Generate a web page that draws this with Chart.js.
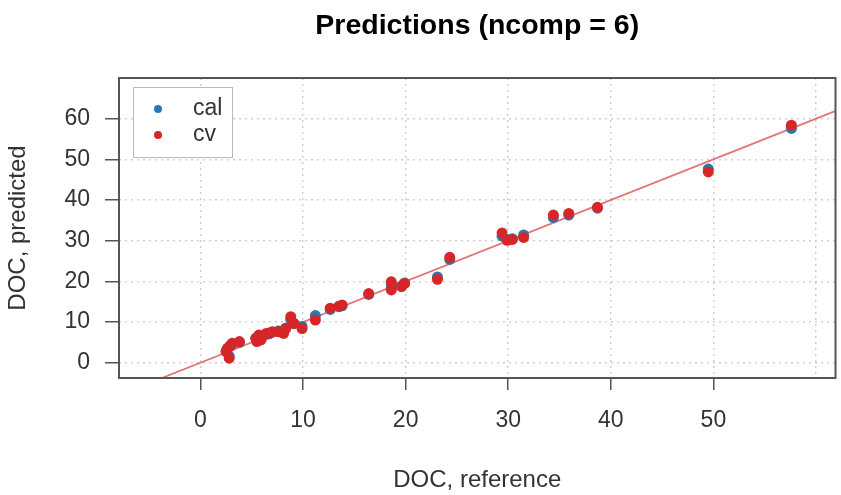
<!DOCTYPE html>
<html>
<head>
<meta charset="utf-8">
<script src="https://cdn.jsdelivr.net/npm/chart.js@4"></script>
<style>
  html, body { margin: 0; padding: 0; background: #fff; }
</style>
</head>
<body>
<canvas id="myChart" width="841" height="495"></canvas>
<script>
// reference DOC values and the predictions (calibration and cross-validation)
const refValues = [2.5, 2.65, 2.8, 2.9, 3.1, 3.8, 5.4, 5.5, 5.7, 5.9, 6.0, 6.4, 6.7, 7.0, 7.6, 8.1, 8.3, 8.8, 9.1, 9.9,
  11.2, 12.65, 13.5, 13.8, 16.4, 18.6, 18.6, 19.6, 19.9, 23.1, 24.3, 29.4, 29.9, 30.4, 31.5, 34.4, 35.9, 38.7, 49.5, 57.6];
const cvPredicted = [2.7, 3.5, 1.1, 4.2, 4.8, 5.2, 6.0, 5.2, 6.8, 5.6, 6.5, 7.2, 7.3, 7.6, 7.6, 7.2, 8.4, 11.3, 9.7, 8.4,
  10.5, 13.4, 13.9, 14.2, 17.0, 17.9, 19.9, 18.7, 19.5, 20.5, 25.9, 31.9, 30.1, 30.3, 30.8, 36.3, 36.7, 38.2, 46.9, 58.4];
const calPredicted = [2.9, 3.6, 1.6, 4.1, 4.6, 5.0, 6.0, 5.5, 6.6, 5.9, 6.4, 7.0, 7.1, 7.5, 7.8, 7.5, 8.5, 10.6, 9.6, 8.9,
  11.6, 13.1, 13.8, 14.0, 16.8, 18.2, 19.4, 18.9, 19.6, 21.1, 25.4, 31.1, 30.3, 30.5, 31.4, 35.7, 36.3, 38.0, 47.6, 57.6];

const seriesNames = ["cal", "cv"];
const seriesColors = ["#2679B2", "#D62728"];

const xLimits = [-7.94, 61.9];
const yLimits = [-3.76, 70];
const xTicks = [0, 10, 20, 30, 40, 50, 60];
const xTickLabels = ["0", "10", "20", "30", "40", "50", ""];
const yTicks = [0, 10, 20, 30, 40, 50, 60, 70];
const yTickLabels = ["0", "10", "20", "30", "40", "50", "60", ""];

const FONT = "'Liberation Sans', Arial, sans-serif";

// y = x target line, across the whole plot
const lineEnds = [Math.min(xLimits[0], yLimits[0]), Math.max(xLimits[1], yLimits[1])];

// box around plot + legend inside top-left corner
const boxAndLegend = {
    id: "boxAndLegend",
    afterDraw(chart) {
        const ctx = chart.ctx;
        const a = chart.chartArea;
        ctx.save();
        ctx.strokeStyle = "#555";
        ctx.lineWidth = 2;
        ctx.strokeRect(a.left, a.top, a.right - a.left, a.bottom - a.top);

        const lx = a.left + 14, ly = a.top + 9;
        ctx.fillStyle = "#fff";
        ctx.fillRect(lx, ly, 99, 70);
        ctx.strokeStyle = "#bbb";
        ctx.lineWidth = 1;
        ctx.strokeRect(lx + 0.5, ly + 0.5, 99, 70);

        ctx.font = "23px " + FONT;
        ctx.textBaseline = "middle";
        ctx.textAlign = "left";
        seriesNames.forEach((name, i) => {
            const cy = ly + 22 + i * 26;
            ctx.fillStyle = seriesColors[i];
            ctx.beginPath();
            ctx.arc(lx + 25, cy, 4, 0, Math.PI * 2);
            ctx.fill();
            ctx.fillStyle = "#333";
            ctx.fillText(name, lx + 60, cy);
        });
        ctx.restore();
    }
};

const ctx = document.getElementById("myChart").getContext("2d");
new Chart(ctx, {
    type: "scatter",
    data: {
        datasets: [
            {
                label: "cv",
                data: refValues.map((x, i) => ({ x: x, y: cvPredicted[i] })),
                backgroundColor: seriesColors[1],
                borderWidth: 0,
                pointRadius: 5.5,
                order: 0,
            },
            {
                label: "cal",
                data: refValues.map((x, i) => ({ x: x, y: calPredicted[i] })),
                backgroundColor: seriesColors[0],
                borderWidth: 0,
                pointRadius: 5.5,
                order: 1,
            },
            {
                type: "line",
                label: "target",
                data: lineEnds.map(v => ({ x: v, y: v })),
                borderColor: "rgba(226, 90, 90, 0.85)",
                borderWidth: 1.7,
                pointRadius: 0,
                order: 2,
            },
        ],
    },
    options: {
        responsive: false,
        animation: false,
        layout: { padding: { left: 0, right: 1, top: 0, bottom: 0 } },
        plugins: {
            legend: { display: false },
            tooltip: { enabled: false },
            title: {
                display: true,
                fullSize: false,
                text: "Predictions (ncomp = 6)",
                color: "#000",
                font: { family: FONT, size: 28.5, weight: "bold" },
                padding: { top: 9, bottom: 34.8 },
            },
        },
        scales: {
            x: {
                type: "linear",
                min: xLimits[0],
                max: xLimits[1],
                afterBuildTicks: scale => { scale.ticks = xTicks.map(v => ({ value: v })); },
                afterFit: scale => { scale.height = 117; },
                ticks: {
                    callback: (value, index) => xTickLabels[index],
                    color: "#333",
                    font: { family: FONT, size: 23 },
                    padding: 17,
                    maxRotation: 0,
                    autoSkip: false,
                },
                grid: {
                    color: "#cfcfcf",
                    lineWidth: 1.5,
                    tickLength: 12,
                    tickColor: c => (xTickLabels[c.index] ? "#555" : "rgba(0,0,0,0)"),
                    tickWidth: 1.5,
                    tickBorderDash: [],
                },
                border: { display: false, dash: [2, 4] },
                title: {
                    display: true,
                    text: "DOC, reference",
                    color: "#333",
                    font: { family: FONT, size: 24 },
                    padding: { top: 0, bottom: 0 },
                },
            },
            y: {
                type: "linear",
                min: yLimits[0],
                max: yLimits[1],
                afterBuildTicks: scale => { scale.ticks = yTicks.map(v => ({ value: v })); },
                afterFit: scale => { scale.width = 119; },
                ticks: {
                    callback: (value, index) => yTickLabels[index],
                    color: "#333",
                    font: { family: FONT, size: 23 },
                    padding: 15,
                    autoSkip: false,
                },
                grid: {
                    color: "#cfcfcf",
                    lineWidth: 1.5,
                    tickLength: 14,
                    tickColor: c => (yTickLabels[c.index] ? "#555" : "rgba(0,0,0,0)"),
                    tickWidth: 1.5,
                    tickBorderDash: [],
                },
                border: { display: false, dash: [2, 4] },
                title: {
                    display: true,
                    text: "DOC, predicted",
                    color: "#333",
                    font: { family: FONT, size: 24 },
                    padding: { top: 4, bottom: 0 },
                },
            },
        },
    },
    plugins: [boxAndLegend],
});
</script>
</body>
</html>
